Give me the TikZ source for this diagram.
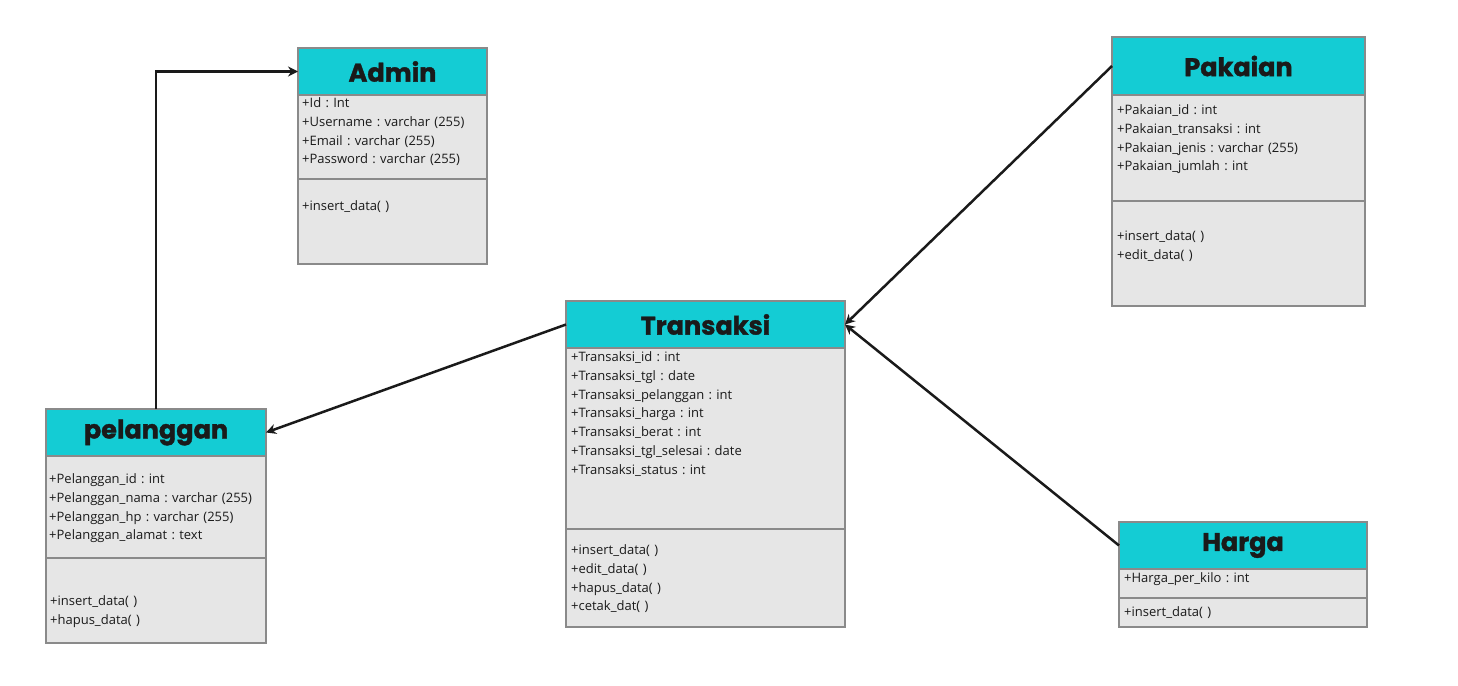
\documentclass[tikz,border=0pt]{standalone}
\usepackage{fontspec}
\setmainfont{Open Sans}
\newfontfamily\headfont{Poppins}[BoldFeatures={FakeBold=1.5}]
\usetikzlibrary{positioning,arrows.meta}
\definecolor{headcyan}{HTML}{14CCD4}
\definecolor{bodygray}{HTML}{E6E6E6}
\definecolor{framegray}{HTML}{8A8A8A}
\definecolor{inkblack}{HTML}{1A1A1A}
\frenchspacing
\begin{document}
\begin{tikzpicture}
[
x=1pt, y=-1pt,
head/.style={rectangle, fill=headcyan, draw=framegray, line width=1.2pt, inner sep=0pt, outer sep=0pt, text=inkblack, font=\headfont\bfseries\fontsize{25.5}{28}\selectfont},
sect/.style={rectangle, fill=bodygray, draw=framegray, line width=1.2pt, inner sep=0pt, outer sep=0pt},
txt/.style={inner sep=0pt, align=left, text width=240pt, text=inkblack, font=\fontsize{13}{18.8}\selectfont},
link/.style={draw=inkblack, line width=2.5pt, -{Stealth[length=10pt,width=10pt]}}
]
\useasboundingbox (0,0) rectangle (1458,685);

%Admin
\node[head, minimum width=189, minimum height=47, anchor=north west] (admin_head) at (298,48) {Admin};
\node[sect, minimum width=189, minimum height=84, below=0pt of admin_head] (admin_attr) {};
\node[sect, minimum width=189, minimum height=85, below=0pt of admin_attr] (admin_meth) {};
\node[txt, anchor=base west] (admin_attr_txt) at (302,107.5) {+Id : Int\\+Username : varchar (255)\\+Email : varchar (255)\\+Password : varchar (255)};
\node[txt, anchor=base west] (admin_meth_txt) at (302,210.5) {+insert\_data( )};

%Pakaian
\node[head, minimum width=253, minimum height=58, anchor=north west] (pakaian_head) at (1112,37) {Pakaian};
\node[sect, minimum width=253, minimum height=106, below=0pt of pakaian_head] (pakaian_attr) {};
\node[sect, minimum width=253, minimum height=105, below=0pt of pakaian_attr] (pakaian_meth) {};
\node[txt, anchor=base west] (pakaian_attr_txt) at (1117,114.5) {+Pakaian\_id : int\\+Pakaian\_transaksi : int\\+Pakaian\_jenis : varchar (255)\\+Pakaian\_jumlah : int};
\node[txt, anchor=base west] (pakaian_meth_txt) at (1117,240.5) {+insert\_data( )\\+edit\_data( )};

%Transaksi
\node[head, minimum width=279, minimum height=47, anchor=north west] (transaksi_head) at (566,301) {Transaksi};
\node[sect, minimum width=279, minimum height=181, below=0pt of transaksi_head] (transaksi_attr) {};
\node[sect, minimum width=279, minimum height=98, below=0pt of transaksi_attr] (transaksi_meth) {};
\node[txt, anchor=base west] (transaksi_attr_txt) at (571,361.5) {+Transaksi\_id : int\\+Transaksi\_tgl : date\\+Transaksi\_pelanggan : int\\+Transaksi\_harga : int\\+Transaksi\_berat : int\\+Transaksi\_tgl\_selesai : date\\+Transaksi\_status : int};
\node[txt, anchor=base west] (transaksi_meth_txt) at (571,554.5) {+insert\_data( )\\+edit\_data( )\\+hapus\_data( )\\+cetak\_dat( )};

%pelanggan
\node[head, minimum width=220, minimum height=47, anchor=north west] (pelanggan_head) at (46,409) {pelanggan};
\node[sect, minimum width=220, minimum height=102, below=0pt of pelanggan_head] (pelanggan_attr) {};
\node[sect, minimum width=220, minimum height=85, below=0pt of pelanggan_attr] (pelanggan_meth) {};
\node[txt, anchor=base west] (pelanggan_attr_txt) at (49,483.5) {+Pelanggan\_id : int\\+Pelanggan\_nama : varchar (255)\\+Pelanggan\_hp : varchar (255)\\+Pelanggan\_alamat : text};
\node[txt, anchor=base west] (pelanggan_meth_txt) at (50,605.5) {+insert\_data( )\\+hapus\_data( )};

%Harga
\node[head, minimum width=248, minimum height=47, anchor=north west] (harga_head) at (1119,522) {Harga};
\node[sect, minimum width=248, minimum height=29, below=0pt of harga_head] (harga_attr) {};
\node[sect, minimum width=248, minimum height=29, below=0pt of harga_attr] (harga_meth) {};
\node[txt, anchor=base west] (harga_attr_txt) at (1124,582.5) {+Harga\_per\_kilo : int};
\node[txt, anchor=base west] (harga_meth_txt) at (1124,616.5) {+insert\_data( )};

%Lines
\draw[link] (pelanggan_head.north) |- (admin_head.west);
\draw[link] (transaksi_head.west) -- (pelanggan_head.east);
\draw[link] (pakaian_head.west) -- (transaksi_head.east);
\draw[link] (harga_head.west) -- (transaksi_head.east);
\end{tikzpicture}
\end{document}
